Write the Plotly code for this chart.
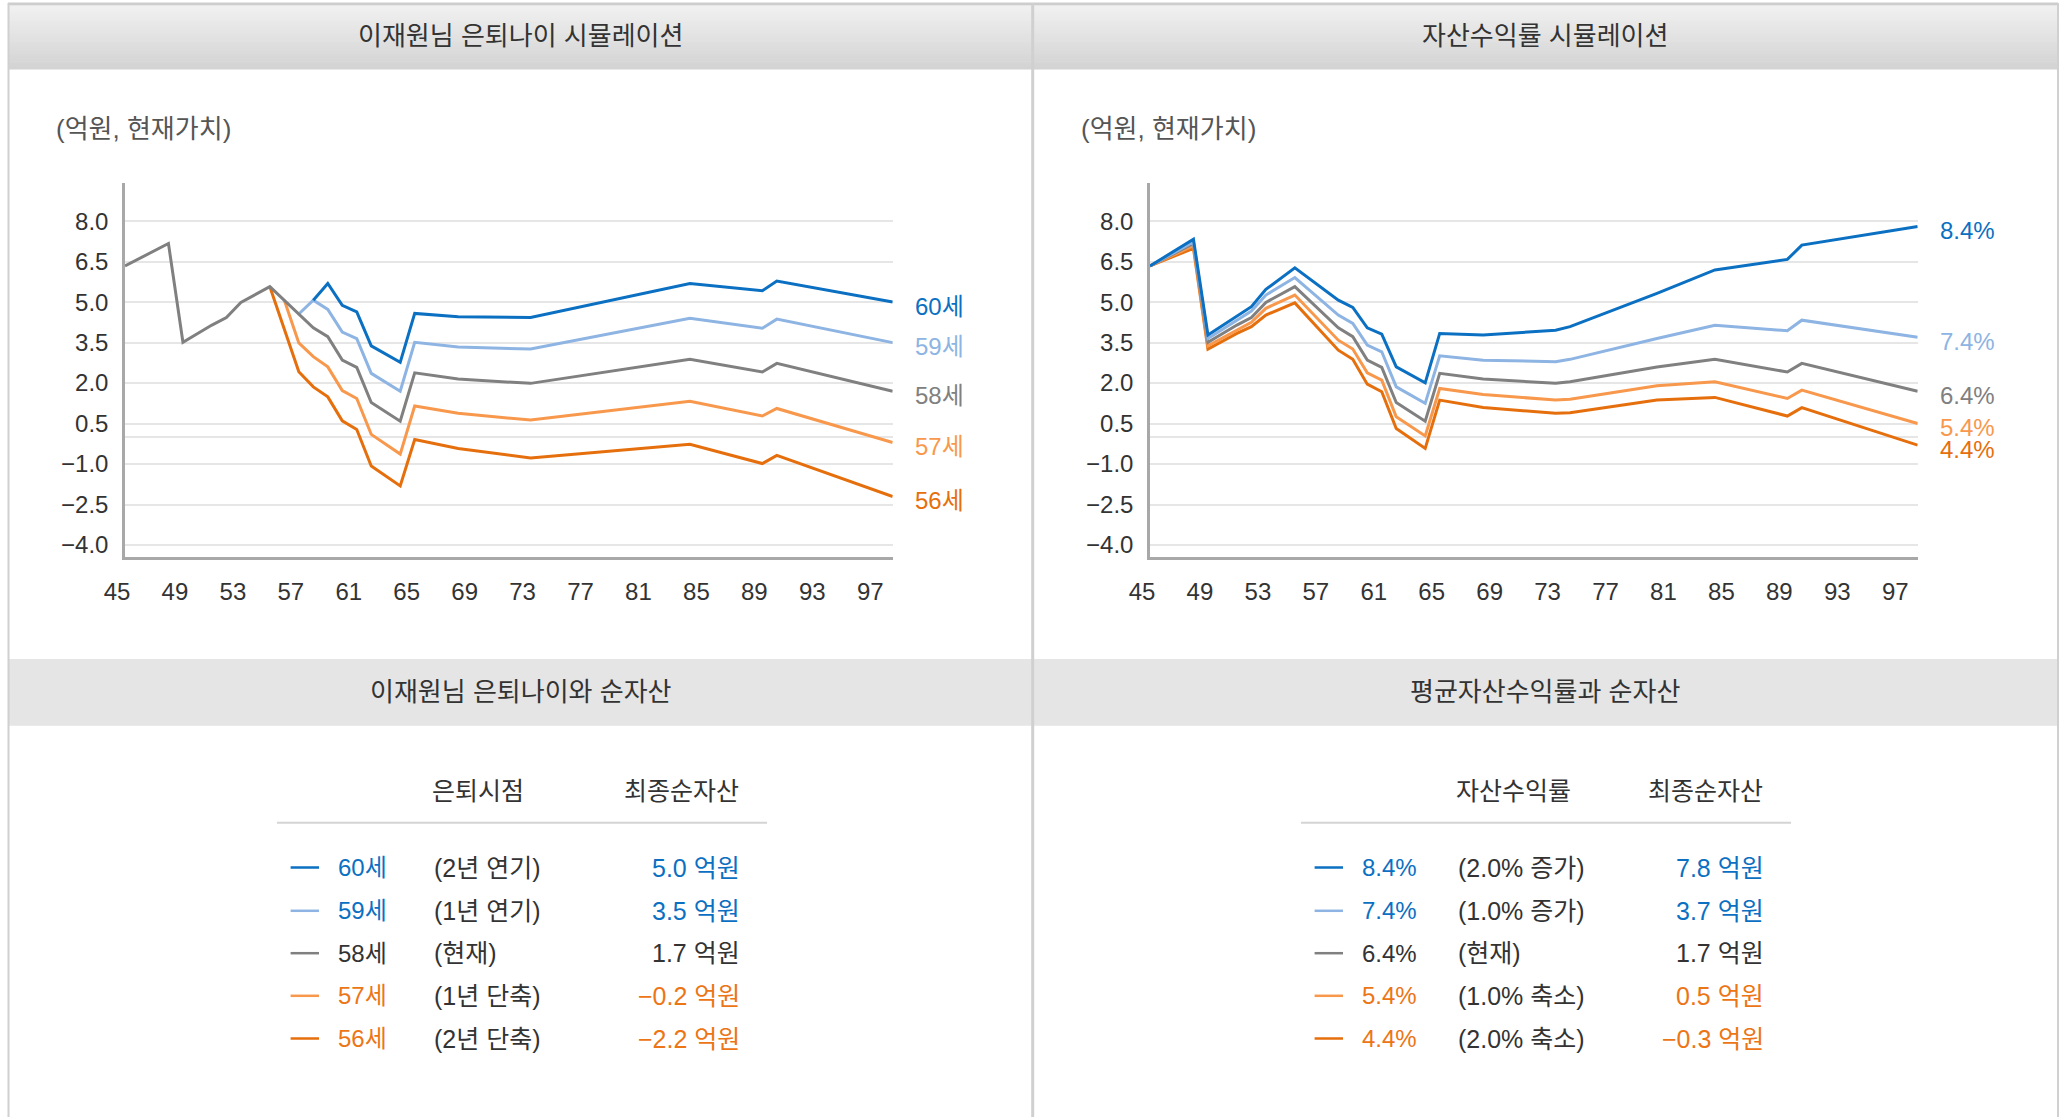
import plotly.graph_objects as go

W, H = 2062, 1117

# ---------------- data ----------------
X_TICKS = [45, 49, 53, 57, 61, 65, 69, 73, 77, 81, 85, 89, 93, 97]
Y_TICKS = [8.0, 6.5, 5.0, 3.5, 2.0, 0.5, -1.0, -2.5, -4.0]

# left chart: retirement-age simulation (억원, present value)
L_AGES = [45, 48, 49, 51, 52, 53, 55, 56, 57, 58, 59, 60, 61, 62, 64, 65, 68, 73, 84, 89, 90, 98]
L_60 = [None, None, None, None, None, None, None, None, None, 5.07, 5.69, 4.88, 4.64, 3.38, 2.77, 4.58, 4.46, 4.43, 5.69, 5.42, 5.78, 5.0]
L_59 = [None, None, None, None, None, None, None, None, 4.56, 5.07, 4.73, 3.89, 3.65, 2.36, 1.70, 3.51, 3.34, 3.26, 4.40, 4.03, 4.37, 3.5]
L_58 = [6.34, 7.17, 3.51, 4.15, 4.43, 4.99, 5.57, 5.07, 4.56, 4.05, 3.72, 2.85, 2.58, 1.28, 0.59, 2.38, 2.15, 1.99, 2.88, 2.41, 2.73, 1.7]
L_57 = [None, None, None, None, None, None, None, 5.07, 3.49, 2.98, 2.60, 1.72, 1.43, 0.10, -0.63, 1.15, 0.88, 0.63, 1.33, 0.78, 1.06, -0.2]
L_56 = [None, None, None, None, None, None, 5.57, None, 2.42, 1.86, 1.49, 0.60, 0.28, -1.07, -1.81, -0.09, -0.42, -0.77, -0.27, -0.98, -0.68, -2.2]

# right chart: asset-return simulation
R_AGES = [45, 48, 49, 51, 52, 53, 55, 58, 59, 60, 61, 62, 64, 65, 68, 73, 74, 80, 84, 89, 90, 98]
R_84 = [6.34, 7.33, 3.78, 4.48, 4.83, 5.47, 6.27, 5.07, 4.80, 4.05, 3.81, 2.60, 2.01, 3.84, 3.78, 3.96, 4.09, 5.32, 6.19, 6.58, 7.11, 7.8]
R_74 = [6.34, 7.23, 3.65, 4.33, 4.67, 5.26, 5.91, 4.52, 4.21, 3.41, 3.16, 1.86, 1.25, 3.01, 2.85, 2.79, 2.88, 3.65, 4.14, 3.94, 4.33, 3.7]
R_64 = [6.34, 7.17, 3.51, 4.15, 4.43, 4.99, 5.57, 4.05, 3.72, 2.85, 2.58, 1.28, 0.59, 2.36, 2.15, 1.99, 2.05, 2.60, 2.88, 2.41, 2.73, 1.7]
R_54 = [6.34, 7.09, 3.38, 3.98, 4.25, 4.77, 5.26, 3.59, 3.26, 2.38, 2.11, 0.75, 0.04, 1.80, 1.58, 1.37, 1.40, 1.90, 2.05, 1.43, 1.74, 0.5]
R_44 = [6.34, 6.99, 3.26, 3.84, 4.09, 4.52, 4.97, 3.22, 2.88, 1.96, 1.68, 0.32, -0.42, 1.37, 1.10, 0.88, 0.90, 1.37, 1.47, 0.78, 1.09, -0.3]

RETIRE_LABELS = ["60세", "59세", "58세", "57세", "56세"]
RETIRE_NOTES = ["(2년 연기)", "(1년 연기)", "(현재)", "(1년 단축)", "(2년 단축)"]
RETIRE_FINAL = [5.0, 3.5, 1.7, -0.2, -2.2]

RATE_LABELS = ["8.4%", "7.4%", "6.4%", "5.4%", "4.4%"]
RATE_NOTES = ["(2.0% 증가)", "(1.0% 증가)", "(현재)", "(1.0% 축소)", "(2.0% 축소)"]
RATE_FINAL = [7.8, 3.7, 1.7, 0.5, -0.3]

TITLES_TOP = ["이재원님 은퇴나이 시뮬레이션", "자산수익률 시뮬레이션"]
TITLES_MID = ["이재원님 은퇴나이와 순자산", "평균자산수익률과 순자산"]
UNIT_TEXT = "(억원, 현재가치)"
TABLE_HEAD = [["은퇴시점", "최종순자산"], ["자산수익률", "최종순자산"]]

# ---------------- style ----------------
LINE_COLORS = ["#0B70C2", "#8DB4E2", "#808080", "#F8984C", "#E66F0D"]
TEXT_COLORS = ["#0B70C2", "#0B70C2", "#333333", "#EC7516", "#EC7516"]
FONT = "Liberation Sans, Noto Sans CJK KR, sans-serif"
AX_COLOR = "#A8A8A8"
GRID_COLOR = "#E6E6E6"
FS = 24


def fx(x):
    return x / W


def fy(y):
    return 1 - y / H


def fmt(v):
    s = f"{v:.1f}"
    return s.replace("-", "\u2212")


fig = go.Figure()

left_series = [L_60, L_59, L_58, L_57, L_56]
right_series = [R_84, R_74, R_64, R_54, R_44]

for i in [4, 3, 1, 0, 2]:
    fig.add_trace(go.Scatter(x=L_AGES, y=left_series[i], mode="lines", connectgaps=True,
                             line=dict(color=LINE_COLORS[i], width=3), xaxis="x", yaxis="y",
                             hoverinfo="skip", showlegend=False))
for i in [4, 3, 2, 1, 0]:
    fig.add_trace(go.Scatter(x=R_AGES, y=right_series[i], mode="lines", connectgaps=True,
                             line=dict(color=LINE_COLORS[i], width=3), xaxis="x2", yaxis="y2",
                             hoverinfo="skip", showlegend=False))

PLOT_TOP, PLOT_BOT = 183.3, 556.7
PLOT_X = [(125, 892.7), (1150, 1917.7)]


def xaxis_cfg(i):
    a, b = PLOT_X[i]
    return dict(domain=[fx(a), fx(b)], range=[45, 98], anchor="y" if i == 0 else "y2",
                automargin=False,
                tickmode="array", tickvals=X_TICKS, ticktext=[str(t) for t in X_TICKS],
                ticklabelshift=-8, ticklabelstandoff=12,
                showgrid=False, zeroline=False, showline=True, linecolor=AX_COLOR, linewidth=2.5,
                ticks="", tickfont=dict(family=FONT, size=FS, color="#333333"), fixedrange=True)


def yaxis_cfg(i):
    return dict(domain=[fy(PLOT_BOT), fy(PLOT_TOP)], range=[-4.43, 9.4], anchor="x" if i == 0 else "x2",
                automargin=False,
                tickmode="array", tickvals=Y_TICKS, ticktext=[fmt(t) for t in Y_TICKS],
                showgrid=True, gridcolor=GRID_COLOR, gridwidth=2,
                zeroline=True, zerolinecolor=GRID_COLOR, zerolinewidth=2,
                showline=True, linecolor=AX_COLOR, linewidth=2.5, ticks="", ticklabelstandoff=9,
                tickfont=dict(family=FONT, size=FS, color="#333333"), fixedrange=True)


shapes = []
annotations = []

# top border
shapes.append(dict(type="line", xref="paper", yref="paper", x0=fx(8), x1=fx(2058), y0=fy(4), y1=fy(4),
                   line=dict(color="#CDCDCD", width=3), layer="below"))
# gradient header
N = 24
top_y, bot_y = 6, 69
c0, c1 = (240, 240, 240), (211, 211, 211)
for k in range(N):
    t = k / (N - 1)
    col = tuple(round(c0[j] + (c1[j] - c0[j]) * t) for j in range(3))
    ya = top_y + (bot_y - top_y) * k / N
    yb = top_y + (bot_y - top_y) * (k + 1) / N
    shapes.append(dict(type="rect", xref="paper", yref="paper", x0=fx(9), x1=fx(2057),
                       y0=fy(yb + 0.5), y1=fy(ya), fillcolor="rgb(%d,%d,%d)" % col,
                       line=dict(width=0), layer="below"))
# middle header
shapes.append(dict(type="rect", xref="paper", yref="paper", x0=fx(9), x1=fx(2057), y0=fy(725.7), y1=fy(659),
                   fillcolor="#E5E5E5", line=dict(width=0), layer="below"))
# vertical borders
for xv, wv in [(8.5, 2), (1032.7, 3), (2058, 2)]:
    shapes.append(dict(type="line", xref="paper", yref="paper", x0=fx(xv), x1=fx(xv), y0=0, y1=fy(3),
                       line=dict(color="#D0D0D0", width=wv), layer="above"))

PANEL_CX = [520.5, 1545]
for p in range(2):
    annotations.append(dict(text=TITLES_TOP[p], xref="paper", yref="paper", x=fx(PANEL_CX[p]), y=fy(36),
                            xanchor="center", yanchor="middle", showarrow=False,
                            font=dict(family=FONT, size=26, color="#333333")))
    annotations.append(dict(text=TITLES_MID[p], xref="paper", yref="paper", x=fx(PANEL_CX[p]), y=fy(692),
                            xanchor="center", yanchor="middle", showarrow=False,
                            font=dict(family=FONT, size=26, color="#333333")))
    annotations.append(dict(text=UNIT_TEXT, xref="paper", yref="paper", x=fx(54 + 1025 * p), y=fy(129),
                            xanchor="left", yanchor="middle", showarrow=False,
                            font=dict(family=FONT, size=26, color="#555555")))

# end-of-line labels
for p, (labels, finals) in enumerate([(RETIRE_LABELS, RETIRE_FINAL), (RATE_LABELS, RATE_FINAL)]):
    for i in range(5):
        annotations.append(dict(text=labels[i], xref="x" if p == 0 else "x2", yref="y" if p == 0 else "y2",
                                x=98, y=finals[i], xanchor="left", yanchor="middle", xshift=20, yshift=-4,
                                showarrow=False, font=dict(family=FONT, size=FS, color=LINE_COLORS[i])))

# tables
ROW_Y = [867.5, 910.8, 953.2, 995.8, 1038.5]
for p, (labels, notes, finals) in enumerate([(RETIRE_LABELS, RETIRE_NOTES, RETIRE_FINAL),
                                             (RATE_LABELS, RATE_NOTES, RATE_FINAL)]):
    off = 1024 * p
    annotations.append(dict(text=TABLE_HEAD[p][0], xref="paper", yref="paper", x=fx(430 + off), y=fy(791),
                            xanchor="left", yanchor="middle", showarrow=False,
                            font=dict(family=FONT, size=FS + 1, color="#333333")))
    annotations.append(dict(text=TABLE_HEAD[p][1], xref="paper", yref="paper", x=fx(741 + off), y=fy(791),
                            xanchor="right", yanchor="middle", showarrow=False,
                            font=dict(family=FONT, size=FS + 1, color="#333333")))
    shapes.append(dict(type="line", xref="paper", yref="paper", x0=fx(277 + off), x1=fx(767 + off),
                       y0=fy(822.7), y1=fy(822.7), line=dict(color="#D4D4D4", width=2)))
    for i in range(5):
        yy = ROW_Y[i]
        shapes.append(dict(type="line", xref="paper", yref="paper", x0=fx(290.6 + off), x1=fx(319 + off),
                           y0=fy(yy), y1=fy(yy), line=dict(color=LINE_COLORS[i], width=2.5)))
        annotations.append(dict(text=labels[i], xref="paper", yref="paper", x=fx(336 + off), y=fy(yy),
                                xanchor="left", yanchor="middle", showarrow=False,
                                font=dict(family=FONT, size=FS, color=TEXT_COLORS[i])))
        annotations.append(dict(text=notes[i], xref="paper", yref="paper", x=fx(431.5 + off), y=fy(yy),
                                xanchor="left", yanchor="middle", showarrow=False,
                                font=dict(family=FONT, size=FS + 1, color="#333333")))
        annotations.append(dict(text=fmt(finals[i]) + " 억원", xref="paper", yref="paper", x=fx(742 + off),
                                y=fy(yy), xanchor="right", yanchor="middle", showarrow=False,
                                font=dict(family=FONT, size=FS + 1, color=TEXT_COLORS[i])))

fig.update_layout(
    width=W, height=H, margin=dict(l=0, r=0, t=0, b=0, autoexpand=False),
    paper_bgcolor="white", plot_bgcolor="rgba(0,0,0,0)",
    font=dict(family=FONT, color="#333333"),
    xaxis=xaxis_cfg(0), yaxis=yaxis_cfg(0),
    xaxis2=xaxis_cfg(1), yaxis2=yaxis_cfg(1),
    shapes=shapes, annotations=annotations, showlegend=False,
)

fig.write_html("out.html", config={"displayModeBar": False},
               post_script="document.body.style.margin='0';document.body.style.overflow='hidden';")
